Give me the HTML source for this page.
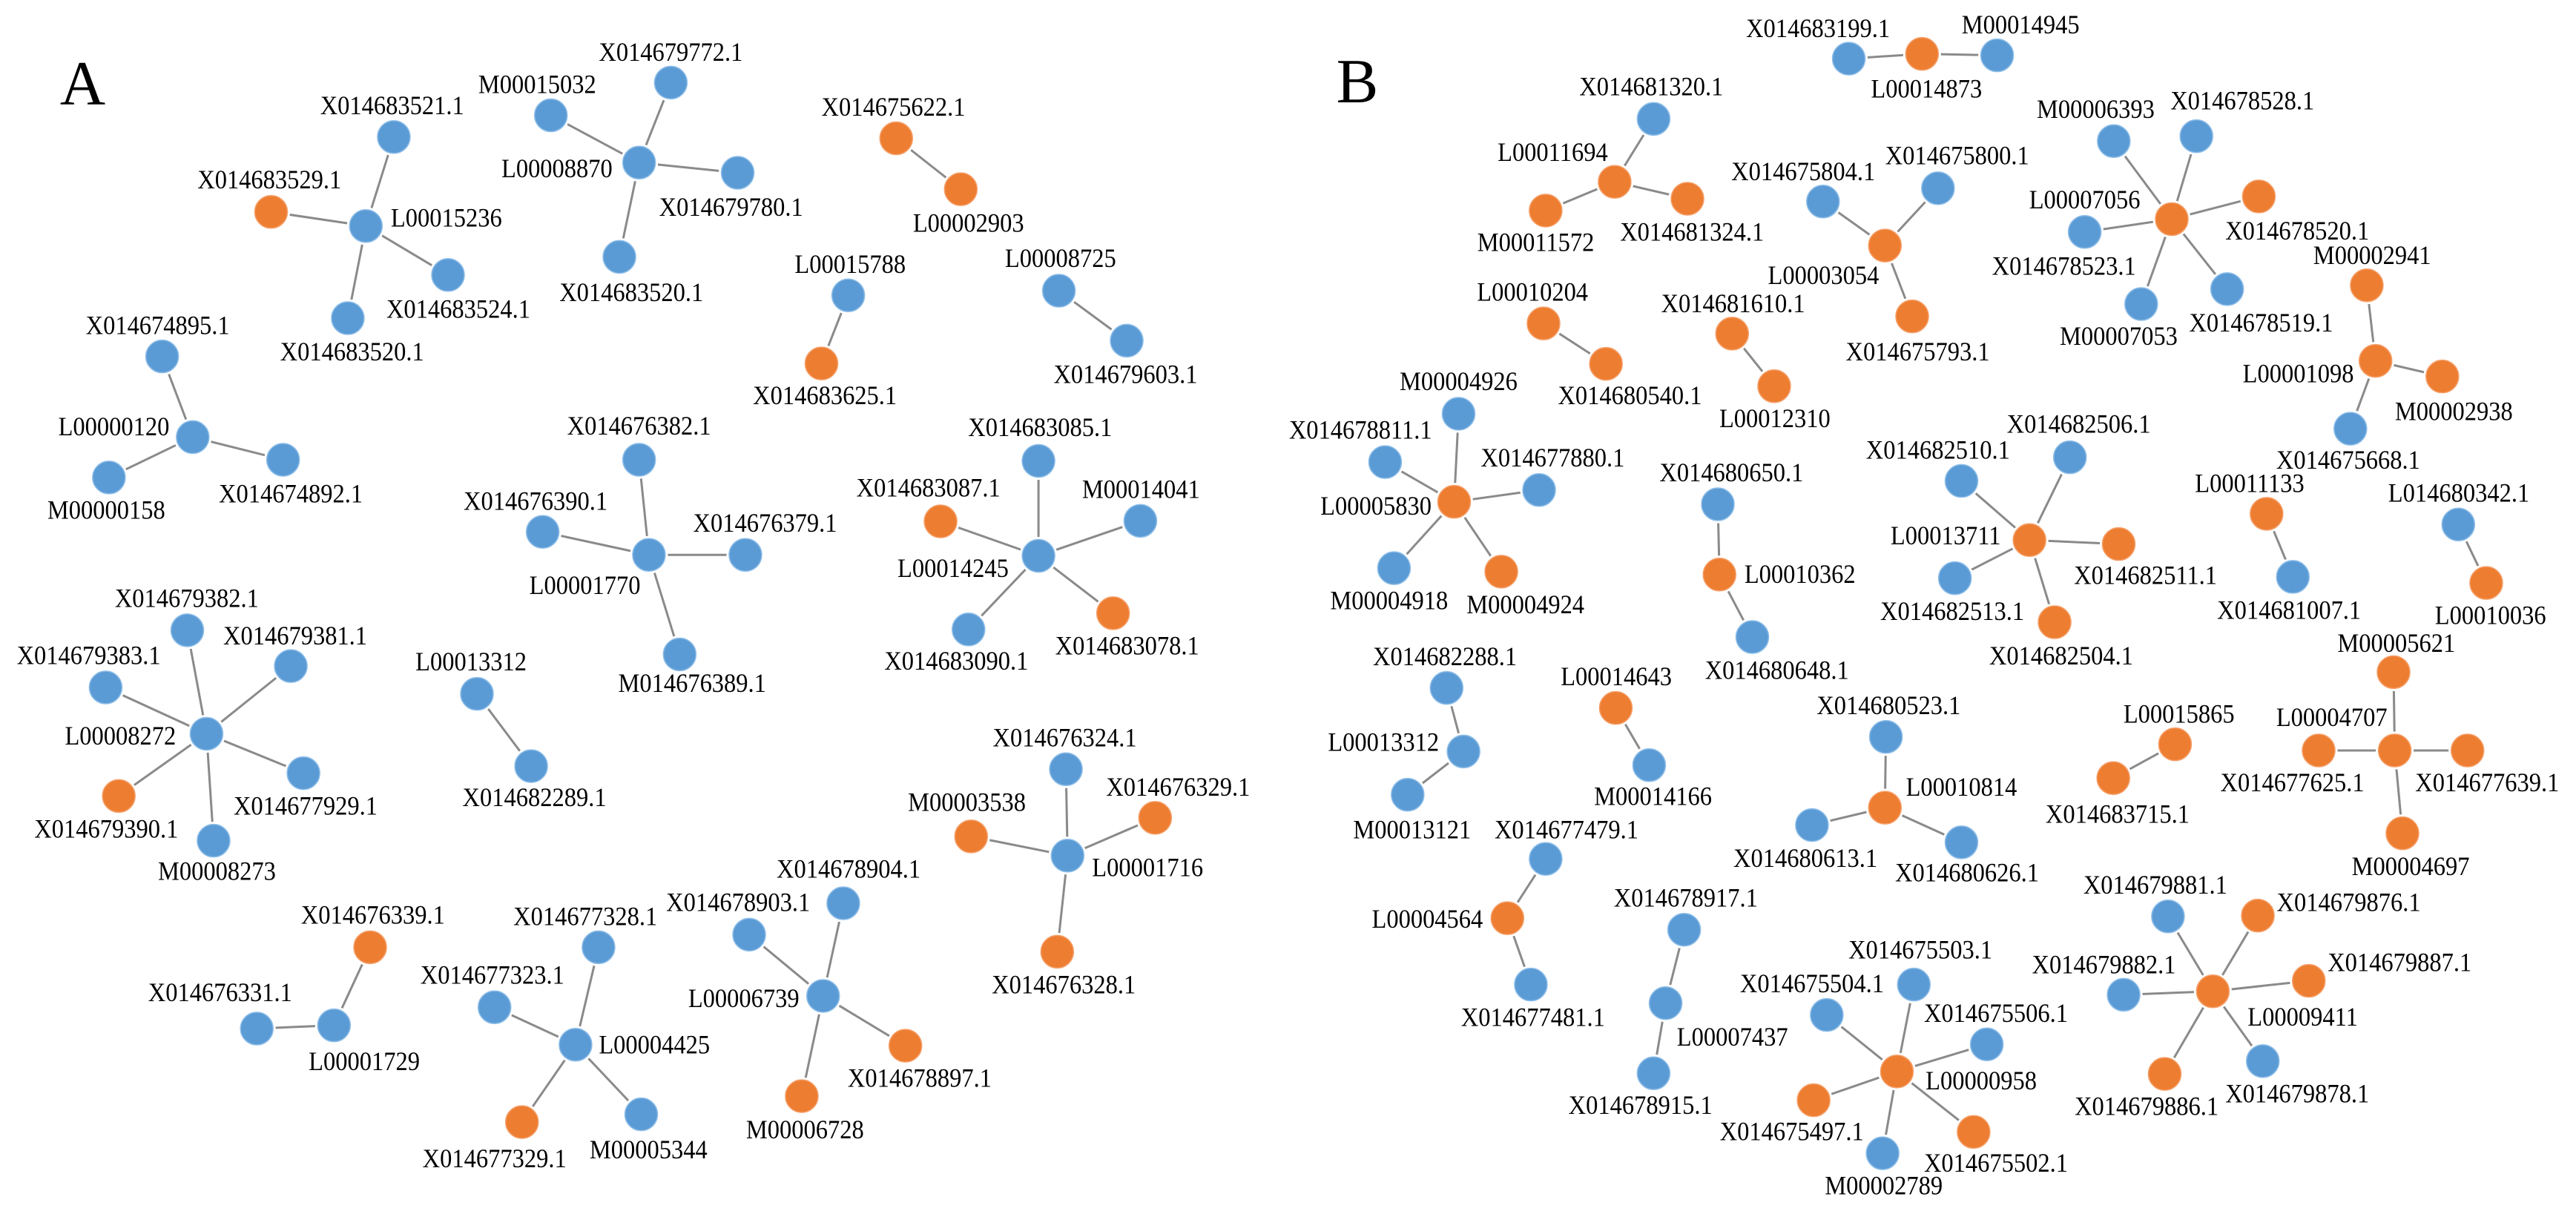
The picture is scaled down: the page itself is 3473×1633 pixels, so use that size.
<!DOCTYPE html>
<html lang="en">
<head>
<meta charset="utf-8">
<title>Co-expression networks A and B</title>
<style>
html,body{margin:0;padding:0;background:#fff;width:3473px;height:1633px;overflow:hidden}
svg{display:block}
text{font-family:"Liberation Serif","Times New Roman",serif;fill:#000}
</style>
</head>
<body>
<svg id="chart" xmlns="http://www.w3.org/2000/svg" width="3473" height="1633" viewBox="0 0 3473 1633">
<rect width="3473" height="1633" fill="#fff"/>
<text x="111.5" y="141" font-size="85" text-anchor="middle">A</text>
<text x="1830" y="138" font-size="85" text-anchor="middle">B</text>
<g id="edges"></g>
<g id="nodes"></g>
<g id="labels"></g>
</svg>
<script>
// Each line is one cluster; the first node in a cluster is its hub.
const clusterSizes = [5,5,2,2,2,4,5,6,7,2,5,3,5,5,
  3,4,4,7,2,2,4,6,3,6,2,2,5,2,2,3,4,3,3,7,7];
const nodeIds = [
"L00015236","X014683521.1","X014683529.1","X014683524.1","X014683520.1",
"L00008870","M00015032","X014679772.1","X014679780.1","X014683520.1",
"L00002903","X014675622.1",
"L00015788","X014683625.1",
"L00008725","X014679603.1",
"L00000120","X014674895.1","M00000158","X014674892.1",
"L00001770","X014676382.1","X014676390.1","X014676379.1","M014676389.1",
"L00014245","X014683085.1","M00014041","X014683087.1","X014683078.1","X014683090.1",
"L00008272","X014679382.1","X014679381.1","X014679383.1","X014677929.1","X014679390.1","M00008273",
"L00013312","X014682289.1",
"L00001716","X014676324.1","X014676329.1","M00003538","X014676328.1",
"L00001729","X014676339.1","X014676331.1",
"L00004425","X014677328.1","X014677323.1","X014677329.1","M00005344",
"L00006739","X014678904.1","X014678903.1","X014678897.1","M00006728",
"L00014873","X014683199.1","M00014945",
"L00011694","X014681320.1","M00011572","X014681324.1",
"L00003054","X014675804.1","X014675800.1","X014675793.1",
"L00007056","M00006393","X014678528.1","X014678520.1","X014678523.1","X014678519.1","M00007053",
"L00010204","X014680540.1",
"X014681610.1","L00012310",
"L00001098","M00002941","M00002938","X014675668.1",
"L00005830","M00004926","X014678811.1","X014677880.1","M00004918","M00004924",
"L00010362","X014680650.1","X014680648.1",
"L00013711","X014682506.1","X014682510.1","X014682511.1","X014682513.1","X014682504.1",
"L00011133","X014681007.1",
"L014680342.1","L00010036",
"L00004707","M00005621","X014677625.1","X014677639.1","M00004697",
"L00015865","X014683715.1",
"L00014643","M00014166",
"L00013312","X014682288.1","M00013121",
"L00010814","X014680523.1","X014680613.1","X014680626.1",
"L00004564","X014677479.1","X014677481.1",
"L00007437","X014678917.1","X014678915.1",
"L00000958","X014675503.1","X014675504.1","X014675506.1","X014675497.1","X014675502.1","M00002789",
"L00009411","X014679881.1","X014679876.1","X014679882.1","X014679887.1","X014679886.1","X014679878.1"
];
const nodeX = [
222.7,239.7,165,272.7,211.7,
389,335.3,408.3,449,377,
584.8,545.5,
516.3,500,
644.5,685.8,
117.3,98.7,66.3,172.3,
395,389,330.3,453.7,413.7,
632.1,632.1,694.1,572.5,677.5,589.5,
125.7,114,177,64.3,184.7,72.3,130,
290.3,323.3,
649.8,648.8,703.1,591.1,643.5,
203.3,225.3,156.3,
350.3,364.3,301,317.7,390.3,
501,513.3,456,551.1,488,
1169.9,1125.3,1215.6,
982.8,1006.5,940.8,1027.1,
1147.3,1109.6,1179.6,1163.9,
1321.9,1286.6,1336.9,1374.9,1268.9,1355.6,1303.3,
939.5,977.5,
1054.3,1079.9,
1445.9,1440.6,1486.6,1430.6,
885.1,887.8,843.1,936.8,848.5,913.8,
1046.6,1045.6,1066.6,
1235.3,1259.9,1193.9,1289.6,1189.9,1250.6,
1379.6,1395.6,
1496.3,1513.3,
1457.6,1456.9,1411.3,1501.9,1462.3,
1323.9,1286.3,
983.5,1003.8,
890.8,880.5,856.8,
1147.3,1147.9,1102.9,1193.9,
917.5,940.8,931.8,
1013.8,1025.1,1006.5,
1154.6,1164.9,1111.9,1209.3,1103.9,1201.3,1145.9,
1346.9,1319.6,1374.3,1292.6,1405.3,1317.6,1377.3
];
const nodeY = [
137.6,83.4,129,167.4,193.7,
99,70.2,50.3,105.2,156.4,
115.2,84.2,
179.8,221.3,
177,207.4,
266.1,217,290.7,279.9,
337.8,279.9,323.8,337.8,398.4,
338.4,280.6,317.1,317.4,373.3,383.2,
446.7,383.7,405.5,418.5,470.7,484.6,511.8,
422.4,466.4,
520.9,468.3,497.9,509.2,579.4,
624.2,576.7,626.2,
636,576.7,613.2,683.1,678.4,
606.3,549.9,569,636.6,667.3,
32.8,35.7,33.7,
110.7,72.4,128.2,121,
149.5,122.7,114.6,192.6,
133.4,85.9,82.9,119.6,141.2,176,185.1,
196.9,221.5,
203.1,235.1,
219.7,173.7,229.2,261,
305.5,251.9,281.3,298.3,345.9,348,
349.8,307,387.8,
328.8,278.4,292.8,331.2,352,378.8,
312.8,351.2,
319.3,354.9,
456.9,409.2,456.9,456.9,507.3,
453.1,473.7,
431,465.8,
457.5,418.8,483.8,
491.7,448.6,502.3,512.8,
559,522.9,599.4,
610.7,566,653.4,
652.3,599.4,617.9,635.8,669.8,689.1,702.1,
603.5,557.9,557.4,605.6,597.1,653.8,646
];
// 0 = blue, 1 = orange
const nodeGroup = [
0,0,1,0,0,
0,0,0,0,0,
1,1,
0,1,
0,0,
0,0,0,0,
0,0,0,0,0,
0,0,0,1,1,0,
0,0,0,0,0,1,0,
0,0,
0,0,1,1,1,
0,1,0,
0,0,0,1,0,
0,0,0,1,1,
1,0,0,
1,0,1,1,
1,0,0,1,
1,0,0,1,0,0,0,
1,1,
1,1,
1,1,1,0,
1,0,0,0,0,1,
1,0,0,
1,0,0,1,0,1,
1,0,
0,1,
1,1,1,1,1,
1,1,
1,0,
0,0,0,
1,0,0,0,
1,0,0,
0,0,0,
1,0,0,0,1,1,0,
1,0,1,0,1,1,0
];
const labelX = [
271.7,238.7,164,279,214.3,
339,327,408.3,445,384.3,
589.5,543.8,
517.5,502.1,
645.5,685.1,
69.3,96,64.7,177,
356,389,326,465.7,421.3,
580.1,633.1,694.5,565.1,686.1,582.1,
73.3,113.7,179.7,54,186,64.7,132,
286.7,325.3,
698.5,648.1,717.1,588.5,647.5,
221.7,227,134,
398.3,356.3,299.7,301,394.7,
452.7,516.5,449.3,559.8,490,
1172.6,1106.6,1229.9,
945.1,1005.1,934.8,1029.9,
1109.9,1097.6,1191.3,1167.3,
1268.9,1275.6,1364.9,1398.3,1256.3,1376.3,1289.6,
932.8,992.1,
1054.9,1080.3,
1398.9,1443.9,1493.6,1429.3,
837.5,887.8,828.1,945.1,845.5,928.5,
1095.6,1053.9,1081.6,
1184.3,1265.3,1179.6,1305.9,1188.3,1254.6,
1369.3,1393.3,
1496.6,1515.9,
1419.3,1458.6,1395.3,1513.9,1467.3,
1326.3,1288.9,
983.8,1006.1,
842.1,879.5,859.5,
1193.9,1149.6,1098.9,1197.3,
868.8,953.5,933.1,
1054.5,1026.1,998.5,
1205.9,1168.9,1102.9,1214.9,1090.6,1214.9,1146.6,
1401.6,1311.9,1429.6,1280.6,1460.6,1306.6,1398.3
];
const labelY = [
132.4,64,109.2,188,214,
102.4,51.3,31.7,125.9,177.9,
135.7,65,
160.7,240.6,
157.2,227.7,
259.7,198,310.3,300.5,
356.3,259.2,305,318.3,415.7,
345.9,260,297.8,296.9,392.9,402.3,
447.8,364.2,387,398.9,490.5,504.6,530.3,
402.8,485.4,
528,448.9,479.1,488.2,599.3,
646,556.8,604.1,
636,557.9,593.5,705.1,699.8,
607.6,528.9,549.1,656.2,687.5,
54,17.2,14.9,
92.5,52.5,147.3,141,
167.4,104.2,94.5,214,
121.5,66.3,61.1,140.3,161.8,196.4,204.5,
177.7,240.6,
184.6,254.7,
227.3,155.2,250.3,279.8,
307.8,232,261.6,278.5,365.5,367.9,
349.5,287.5,407.8,
325.9,258.1,273.8,350.1,372.1,399.2,
294.2,371.3,
300.1,374.6,
436.5,391.4,476.3,476.3,527.3,
434.5,495.5,
411.7,484.6,
451.7,399.5,504.9,
479.1,429.3,522.3,531.1,
559.3,504.9,619.3,
631.1,546.5,672.6,
657.7,578,598.7,616.7,688.8,707.9,721.7,
618.9,538.6,549.3,587.2,585.8,673.4,665.6
];

const scale = 2.215;
const nodeRadius = 22.5;
const fontSize = 32.5;
const colors = ["#5B9BD5", "#ED7D31"];
const strokes = ["#8DBDE8", "#F5A06A"];
const sx = v => v * scale;
const sy = v => v * scale;
const svgNS = "http://www.w3.org/2000/svg";
const edgeLayer = document.getElementById("edges");
const nodeLayer = document.getElementById("nodes");
const labelLayer = document.getElementById("labels");

let start = 0;
clusterSizes.forEach(size => {
  for (let i = start + 1; i < start + size; i++) {
    const line = document.createElementNS(svgNS, "line");
    line.setAttribute("x1", sx(nodeX[start]));
    line.setAttribute("y1", sy(nodeY[start]));
    line.setAttribute("x2", sx(nodeX[i]));
    line.setAttribute("y2", sy(nodeY[i]));
    line.setAttribute("stroke", "#8a8a8a");
    line.setAttribute("stroke-width", "3");
    
    
    edgeLayer.appendChild(line);
  }
  start += size;
});

nodeIds.forEach((id, i) => {
  const halo = document.createElementNS(svgNS, "circle");
  halo.setAttribute("cx", sx(nodeX[i]));
  halo.setAttribute("cy", sy(nodeY[i]));
  halo.setAttribute("r", nodeRadius + 3);
  halo.setAttribute("fill", "#fff");
  
  
  nodeLayer.appendChild(halo);

  const dot = document.createElementNS(svgNS, "circle");
  dot.setAttribute("cx", sx(nodeX[i]));
  dot.setAttribute("cy", sy(nodeY[i]));
  dot.setAttribute("r", nodeRadius - 0.5);
  dot.setAttribute("fill", colors[nodeGroup[i]]);
  dot.setAttribute("stroke", strokes[nodeGroup[i]]);
  dot.setAttribute("stroke-width", "1.5");
  
  
  nodeLayer.appendChild(dot);

  const label = document.createElementNS(svgNS, "text");
  const tx = sx(labelX[i]);
  const ty = sy(labelY[i]) + 12;
  label.setAttribute("text-anchor", "middle");
  label.setAttribute("font-size", fontSize);
  label.setAttribute("transform", "translate(" + tx + " " + ty + ") scale(1 1.1)");
  label.textContent = id;
  
  
  labelLayer.appendChild(label);
});
</script>
</body>
</html>
